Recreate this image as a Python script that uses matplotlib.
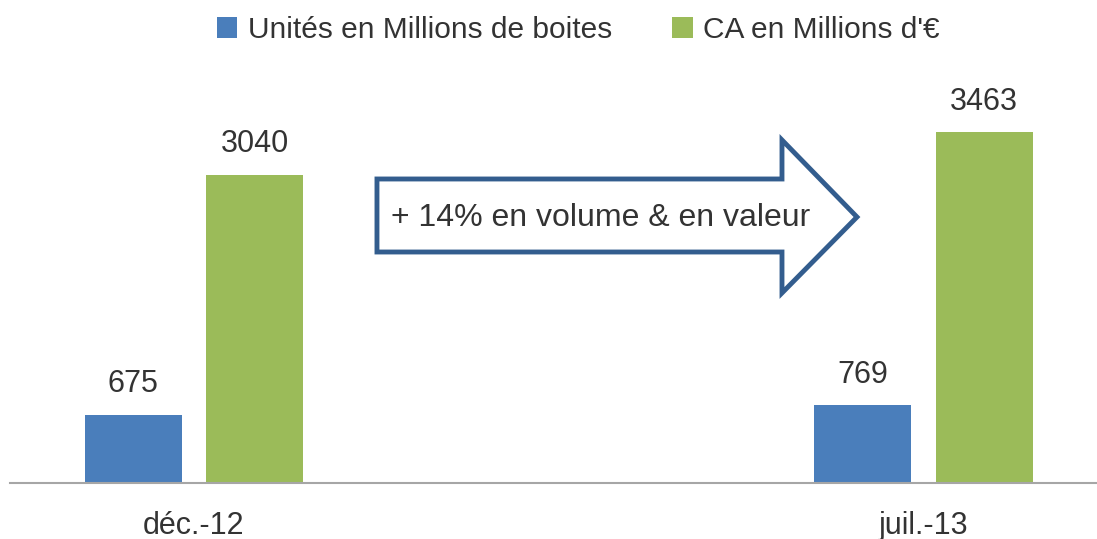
import matplotlib
matplotlib.use("Agg")
import matplotlib.pyplot as plt
import numpy as np
from matplotlib.patches import Polygon

plt.rcParams['font.family'] = ['Liberation Sans', 'DejaVu Sans']

categories = ["déc.-12", "juil.-13"]
series_names = ["Unités en Millions de boites", "CA en Millions d'€"]
unites = [675, 769]
ca = [3040, 3463]
arrow_text = "+ 14% en volume & en valeur"

BLUE = "#4A7EBB"
GREEN = "#9BBB59"
TEXT = "#333333"

fig = plt.figure(figsize=(10.97, 5.39), dpi=100)
W, H = 1097, 539
ax = fig.add_axes([10 / W, (H - 483) / H, 1087 / W, 423 / H])

x = np.arange(len(categories))
width = 0.133
off = 0.083
b1 = ax.bar(x - off, unites, width, color=BLUE, label=series_names[0])
b2 = ax.bar(x + off, ca, width, color=GREEN, label=series_names[1])
for bars in (b1, b2):
    ax.bar_label(bars, padding=11, fontsize=22, color=TEXT)

ax.set_xlim(-0.2522, 1.2378)
ax.set_ylim(0, 4171)
ax.set_xticks(x)
ax.set_xticklabels(categories, fontsize=22, color=TEXT)
ax.tick_params(axis='x', length=0, pad=20)
ax.set_yticks([])
for s in ("left", "right", "top"):
    ax.spines[s].set_visible(False)
ax.spines["bottom"].set_color("#A6A6A6")
ax.spines["bottom"].set_linewidth(1.5)

# arrow annotation (axes fraction coordinates)
xl, xh, xt = 0.3376, 0.7102, 0.7792
yb_top, yb_bot, yh_top, yh_bot, ytip = 0.7187, 0.5461, 0.8109, 0.4492, 0.6288
poly = Polygon([(xl, yb_bot), (xl, yb_top), (xh, yb_top), (xh, yh_top),
                (xt, ytip), (xh, yh_bot), (xh, yb_bot)], closed=True,
               transform=ax.transAxes, facecolor="white", edgecolor="#335D8E",
               linewidth=3.5, joinstyle="miter", zorder=5)
ax.add_patch(poly)
ax.text(0.5437, 0.6265, arrow_text, transform=ax.transAxes, ha="center",
        va="center", fontsize=23, color=TEXT, zorder=6)

leg = fig.legend(handles=[b1, b2], labels=series_names, loc="center",
                 bbox_to_anchor=(0.527, 1 - 30 / H), ncol=2, frameon=False,
                 fontsize=21.5, handlelength=0.7, handleheight=0.7,
                 handletextpad=0.35, columnspacing=2.0)
for t in leg.get_texts():
    t.set_color(TEXT)

fig.savefig("out.png", dpi=100)
